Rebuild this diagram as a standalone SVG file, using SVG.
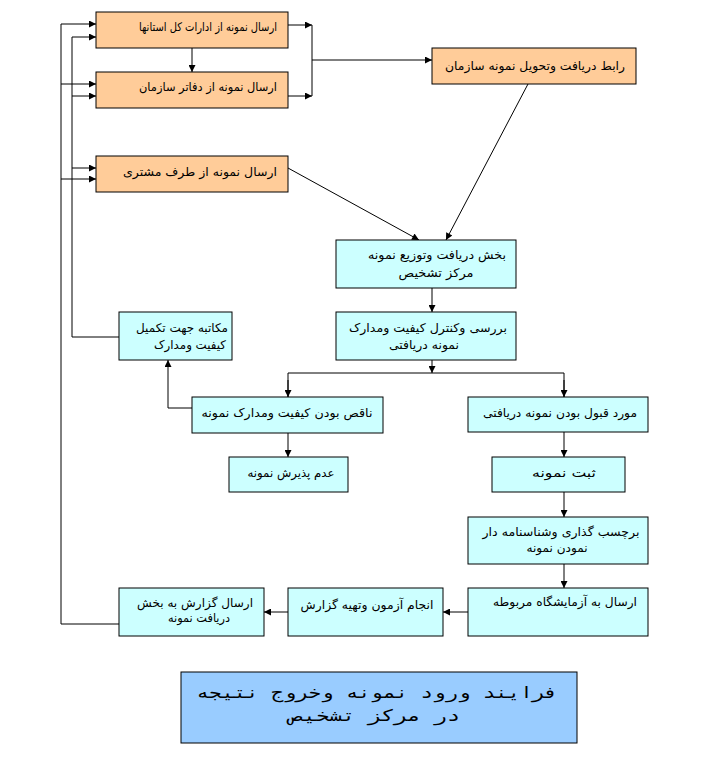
<svg xmlns="http://www.w3.org/2000/svg" width="705" height="781" viewBox="0 0 705 781">
<style>
.bx{stroke:#000;stroke-width:1}
.or{fill:#FFCC99}
.cy{fill:#CCFFFF}
.tl{fill:#99CCFF}
.t{font-family:"DejaVu Sans",sans-serif;font-size:12px;fill:#000;text-anchor:middle}
.tt{font-family:"DejaVu Sans Mono","DejaVu Sans",monospace;font-size:16px;fill:#000;text-anchor:middle}
.c{fill:none;stroke:#000;stroke-width:1}
</style>
<defs>
<marker id="ar" viewBox="0 0 10 10" refX="10" refY="5" markerWidth="9" markerHeight="7" markerUnits="userSpaceOnUse" orient="auto"><path d="M0,0 L10,5 L0,10 z" fill="#000"/></marker>
</defs>
<rect width="705" height="781" fill="#fff"/>
<g id="connectors">
<path class="c" d="M61,24 V624 H119"/>
<path class="c" d="M72,37 V337 H119"/>
<path class="c" d="M61,24 H96" marker-end="url(#ar)"/>
<path class="c" d="M61,84 H96" marker-end="url(#ar)"/>
<path class="c" d="M61,179 H96" marker-end="url(#ar)"/>
<path class="c" d="M72,37 H96" marker-end="url(#ar)"/>
<path class="c" d="M72,96 H96" marker-end="url(#ar)"/>
<path class="c" d="M72,168 H96" marker-end="url(#ar)"/>
<path class="c" d="M192,48 V72" marker-end="url(#ar)"/>
<path class="c" d="M288,25 H312" marker-end="url(#ar)"/>
<path class="c" d="M288,96 H312" marker-end="url(#ar)"/>
<path class="c" d="M312,25 V96"/>
<path class="c" d="M312,60 H432" marker-end="url(#ar)"/>
<path class="c" d="M528,84 L446,240" marker-end="url(#ar)"/>
<path class="c" d="M288,168 L419,240" marker-end="url(#ar)"/>
<path class="c" d="M432,288 V312" marker-end="url(#ar)"/>
<path class="c" d="M432,360 V373" marker-end="url(#ar)"/>
<path class="c" d="M288,397 V373 H564 V397" />
<path class="c" d="M288,380 V397" marker-end="url(#ar)"/>
<path class="c" d="M564,380 V397" marker-end="url(#ar)"/>
<path class="c" d="M192,408 H168 V360" marker-end="url(#ar)"/>
<path class="c" d="M288,433 V457" marker-end="url(#ar)"/>
<path class="c" d="M564,432 V457" marker-end="url(#ar)"/>
<path class="c" d="M564,492 V517" marker-end="url(#ar)"/>
<path class="c" d="M564,564 V588" marker-end="url(#ar)"/>
<path class="c" d="M468,612 H443" marker-end="url(#ar)"/>
<path class="c" d="M288,612 H264" marker-end="url(#ar)"/>
</g>
<g id="n1"><rect class="bx or" x="96" y="12" width="192" height="36"/><text class="t" x="208" y="31" textLength="138" lengthAdjust="spacingAndGlyphs">ارسال نمونه از ادارات کل استانها</text></g>
<g id="n2"><rect class="bx or" x="96" y="72" width="192" height="36"/><text class="t" x="208" y="91" textLength="138" lengthAdjust="spacingAndGlyphs">ارسال نمونه از دفاتر سازمان</text></g>
<g id="n3"><rect class="bx or" x="96" y="156" width="192" height="36"/><text class="t" x="200" y="176" textLength="154" lengthAdjust="spacingAndGlyphs">ارسال نمونه از طرف مشتری</text></g>
<g id="n4"><rect class="bx or" x="432" y="48" width="204" height="36"/><text class="t" x="535" y="70" textLength="180" lengthAdjust="spacingAndGlyphs">رابط دریافت وتحویل نمونه سازمان</text></g>
<g id="n5"><rect class="bx cy" x="336" y="240" width="180" height="48"/><text class="t" x="437" y="259" textLength="138" lengthAdjust="spacingAndGlyphs">بخش دریافت وتوزیع نمونه</text><text class="t" x="436" y="277" textLength="75" lengthAdjust="spacingAndGlyphs">مرکز تشخیص</text></g>
<g id="n6"><rect class="bx cy" x="336" y="312" width="180" height="48"/><text class="t" x="428" y="332" textLength="158" lengthAdjust="spacingAndGlyphs">بررسی وکنترل کیفیت ومدارک</text><text class="t" x="424" y="349" textLength="70" lengthAdjust="spacingAndGlyphs">نمونه دریافتی</text></g>
<g id="n7"><rect class="bx cy" x="119" y="312" width="113" height="48"/><text class="t" x="182" y="332" textLength="92" lengthAdjust="spacingAndGlyphs">مکاتبه جهت تکمیل</text><text class="t" x="190" y="349" textLength="72" lengthAdjust="spacingAndGlyphs">کیفیت ومدارک</text></g>
<g id="n8"><rect class="bx cy" x="192" y="397" width="191" height="36"/><text class="t" x="287" y="417" textLength="171" lengthAdjust="spacingAndGlyphs">ناقص بودن کیفیت ومدارک نمونه</text></g>
<g id="n9"><rect class="bx cy" x="468" y="397" width="180" height="35"/><text class="t" x="560" y="417" textLength="154" lengthAdjust="spacingAndGlyphs">مورد قبول بودن نمونه دریافتی</text></g>
<g id="n10"><rect class="bx cy" x="229" y="457" width="119" height="35"/><text class="t" x="291" y="477" textLength="87" lengthAdjust="spacingAndGlyphs">عدم پذیرش نمونه</text></g>
<g id="n11"><rect class="bx cy" x="492" y="457" width="133" height="35"/><text class="t" x="564" y="477" textLength="64" lengthAdjust="spacingAndGlyphs">ثبت نمونه</text></g>
<g id="n12"><rect class="bx cy" x="468" y="517" width="180" height="47"/><text class="t" x="561" y="536" textLength="157" lengthAdjust="spacingAndGlyphs">برچسب گذاری وشناسنامه دار</text><text class="t" x="557" y="552" textLength="61" lengthAdjust="spacingAndGlyphs">نمودن نمونه</text></g>
<g id="n13"><rect class="bx cy" x="468" y="588" width="180" height="48"/><text class="t" x="565" y="606" textLength="144" lengthAdjust="spacingAndGlyphs">ارسال به آزمایشگاه مربوطه</text></g>
<g id="n14"><rect class="bx cy" x="288" y="588" width="155" height="48"/><text class="t" x="367" y="609" textLength="133" lengthAdjust="spacingAndGlyphs">انجام آزمون وتهیه گزارش</text></g>
<g id="n15"><rect class="bx cy" x="119" y="588" width="145" height="48"/><text class="t" x="195" y="607" textLength="116" lengthAdjust="spacingAndGlyphs">ارسال گزارش به بخش</text><text class="t" x="199" y="622" textLength="62" lengthAdjust="spacingAndGlyphs">دریافت نمونه</text></g>
<g id="title"><rect class="bx tl" x="181" y="672" width="396" height="71"/><text class="tt" x="377" y="698" textLength="361" lengthAdjust="spacingAndGlyphs">فرایند ورود نمونه وخروج نتیجه</text><text class="tt" x="375" y="721" textLength="170" lengthAdjust="spacingAndGlyphs">در مرکز تشخیص</text></g>
</svg>
